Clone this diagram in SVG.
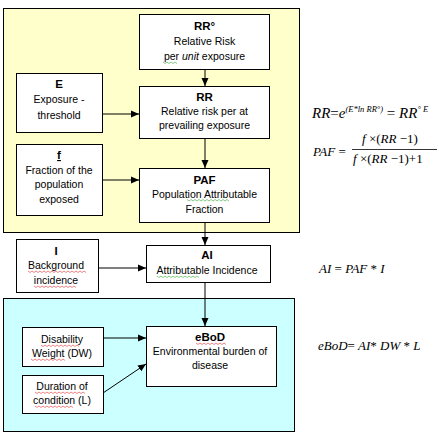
<svg xmlns="http://www.w3.org/2000/svg" width="439" height="448" viewBox="0 0 439 448">
<style>
.panel{stroke:#000;stroke-width:1}
.box{fill:#fff;stroke:#000;stroke-width:1}
text{font-family:"Liberation Sans",Arial,sans-serif;font-size:10.5px;fill:#000;text-anchor:middle}
.b{font-weight:bold;font-size:11.5px}
.f{font-family:"Liberation Serif","Times New Roman",serif;font-style:italic;text-anchor:start;font-size:13px}
.up{font-style:normal}
.c{stroke:#000;stroke-width:1;fill:none}
.sq{fill:none;stroke-width:0.6}
</style>
<defs>
<marker id="ah" markerWidth="8" markerHeight="8" refX="8" refY="4" orient="auto" markerUnits="userSpaceOnUse">
<path d="M0,0.5 L8,4 L0,7.5 Z" fill="#000"/>
</marker>
</defs>
<rect width="439" height="448" fill="#fff"/>
<rect id="panel-yellow" class="panel" x="3.5" y="8.5" width="296" height="224" fill="#FFFFCC"/>
<rect id="panel-cyan" class="panel" x="3.5" y="298.5" width="291" height="133" fill="#CCFFFF"/>

<g id="connectors">
<line class="c" x1="205" y1="69" x2="205" y2="86" marker-end="url(#ah)"/>
<line class="c" x1="102" y1="114" x2="139" y2="114" marker-end="url(#ah)"/>
<line class="c" x1="205" y1="138" x2="205" y2="168" marker-end="url(#ah)"/>
<line class="c" x1="102" y1="180" x2="139" y2="180" marker-end="url(#ah)"/>
<line class="c" x1="205" y1="222" x2="205" y2="245" marker-end="url(#ah)"/>
<line class="c" x1="98" y1="268" x2="146" y2="268" marker-end="url(#ah)"/>
<line class="c" x1="205" y1="282" x2="205" y2="326" marker-end="url(#ah)"/>
<line class="c" x1="103" y1="338" x2="146" y2="338" marker-end="url(#ah)"/>
<line class="c" x1="103" y1="393" x2="146" y2="364" marker-end="url(#ah)"/>
</g>

<g id="node-rr0">
<rect class="box" x="139.5" y="14.5" width="130" height="55"/>
<text class="b" x="204.5" y="30">RR°</text>
<text x="204.5" y="44.5">Relative Risk</text>
<text x="204.5" y="60">per <tspan font-style="italic">unit</tspan> exposure</text>
</g>

<g id="node-e">
<rect class="box" x="16.5" y="73.5" width="86" height="59"/>
<text class="b" x="59" y="88">E</text>
<text x="59" y="103">Exposure -</text>
<text x="59" y="119">threshold</text>
</g>

<g id="node-rr">
<rect class="box" x="139.5" y="86.5" width="130" height="52"/>
<text class="b" x="204.5" y="100.5">RR</text>
<text x="204.5" y="115">Relative risk per at</text>
<text x="204.5" y="129">prevailing exposure</text>
</g>

<g id="node-f">
<rect class="box" x="16.5" y="144.5" width="86" height="71"/>
<text class="b" x="59" y="159" text-decoration="underline">f</text>
<text x="59" y="174">Fraction of the</text>
<text x="59" y="188">population</text>
<text x="59" y="203">exposed</text>
</g>

<g id="node-paf">
<rect class="box" x="139.5" y="168.5" width="130" height="54"/>
<text class="b" x="204.5" y="184">PAF</text>
<text x="204.5" y="197.5">Population Attributable</text>
<text x="204.5" y="213">Fraction</text>
</g>

<g id="node-i">
<rect class="box" x="16.5" y="239.5" width="82" height="53"/>
<text class="b" x="56" y="255">I</text>
<text x="56" y="269">Background</text>
<text x="56" y="284">incidence</text>
</g>

<g id="node-ai">
<rect class="box" x="146.5" y="245.5" width="124" height="37"/>
<text class="b" x="207" y="259">AI</text>
<text x="207" y="274">Attributable Incidence</text>
</g>

<g id="node-dw">
<rect class="box" x="22.5" y="327.5" width="81" height="39"/>
<text x="62" y="343">Disability</text>
<text x="62" y="357">Weight (DW)</text>
</g>

<g id="node-l">
<rect class="box" x="22.5" y="375.5" width="81" height="38"/>
<text x="62" y="390">Duration of</text>
<text x="62" y="404">condition (L)</text>
</g>

<g id="node-ebod">
<rect class="box" x="146.5" y="326.5" width="130" height="60"/>
<text class="b" x="210" y="341">eBoD</text>
<text x="210" y="355">Environmental burden of</text>
<text x="210" y="369">disease</text>
</g>

<g id="spellcheck">
<path class="sq" stroke="#3a3" d="M163,62 l2,1.5 l2,-1.5 l2,1.5 l2,-1.5 l2,1.5 l2,-1.5 l2,1.5"/>
<path class="sq" stroke="#3a3" d="M187,199.5 l2,1.5 l2,-1.5 l2,1.5 l2,-1.5 l2,1.5 l2,-1.5 l2,1.5 l2,-1.5 l2,1.5 l2,-1.5 l2,1.5 l2,-1.5 l2,1.5 l2,-1.5 l2,1.5 l2,-1.5 l2,1.5 l2,-1.5 l2,1.5 l2,-1.5 l2,1.5"/>
<path class="sq" stroke="#3a3" d="M157,276 l2,1.5 l2,-1.5 l2,1.5 l2,-1.5 l2,1.5 l2,-1.5 l2,1.5 l2,-1.5 l2,1.5 l2,-1.5 l2,1.5 l2,-1.5 l2,1.5 l2,-1.5 l2,1.5 l2,-1.5 l2,1.5 l2,-1.5 l2,1.5 l2,-1.5 l2,1.5"/>
<path class="sq" stroke="#d33" d="M28,271 l2,1.5 l2,-1.5 l2,1.5 l2,-1.5 l2,1.5 l2,-1.5 l2,1.5 l2,-1.5 l2,1.5 l2,-1.5 l2,1.5 l2,-1.5 l2,1.5 l2,-1.5 l2,1.5 l2,-1.5 l2,1.5 l2,-1.5 l2,1.5 l2,-1.5 l2,1.5 l2,-1.5 l2,1.5 l2,-1.5 l2,1.5 l2,-1.5 l2,1.5 l2,-1.5 l2,1.5"/>
<path class="sq" stroke="#d33" d="M34,286 l2,1.5 l2,-1.5 l2,1.5 l2,-1.5 l2,1.5 l2,-1.5 l2,1.5 l2,-1.5 l2,1.5 l2,-1.5 l2,1.5 l2,-1.5 l2,1.5 l2,-1.5 l2,1.5 l2,-1.5 l2,1.5 l2,-1.5 l2,1.5 l2,-1.5 l2,1.5"/>
<path class="sq" stroke="#d33" d="M41,345 l2,1.5 l2,-1.5 l2,1.5 l2,-1.5 l2,1.5 l2,-1.5 l2,1.5 l2,-1.5 l2,1.5 l2,-1.5 l2,1.5 l2,-1.5 l2,1.5 l2,-1.5 l2,1.5 l2,-1.5 l2,1.5 l2,-1.5 l2,1.5"/>
<path class="sq" stroke="#d33" d="M31,359 l2,1.5 l2,-1.5 l2,1.5 l2,-1.5 l2,1.5 l2,-1.5 l2,1.5 l2,-1.5 l2,1.5 l2,-1.5 l2,1.5 l2,-1.5 l2,1.5 l2,-1.5 l2,1.5 l2,-1.5 l2,1.5"/>
<path class="sq" stroke="#d33" d="M35,392 l2,1.5 l2,-1.5 l2,1.5 l2,-1.5 l2,1.5 l2,-1.5 l2,1.5 l2,-1.5 l2,1.5 l2,-1.5 l2,1.5 l2,-1.5 l2,1.5 l2,-1.5 l2,1.5 l2,-1.5 l2,1.5 l2,-1.5 l2,1.5 l2,-1.5 l2,1.5 l2,-1.5 l2,1.5 l2,-1.5 l2,1.5"/>
<path class="sq" stroke="#d33" d="M35,406 l2,1.5 l2,-1.5 l2,1.5 l2,-1.5 l2,1.5 l2,-1.5 l2,1.5 l2,-1.5 l2,1.5 l2,-1.5 l2,1.5 l2,-1.5 l2,1.5 l2,-1.5 l2,1.5 l2,-1.5 l2,1.5 l2,-1.5 l2,1.5"/>
<path class="sq" stroke="#d33" d="M196,343 l2,1.5 l2,-1.5 l2,1.5 l2,-1.5 l2,1.5 l2,-1.5 l2,1.5 l2,-1.5 l2,1.5 l2,-1.5 l2,1.5 l2,-1.5 l2,1.5 l2,-1.5 l2,1.5"/>
</g>

<g id="formulas">
<text class="f" x="312" y="118" style="font-size:15px">RR<tspan class="up">=</tspan>e<tspan style="font-size:8.5px" dy="-6.5">(E*ln RR°)</tspan><tspan dy="6.5" class="up"> = </tspan>RR<tspan style="font-size:8.5px" dy="-6.5">° E</tspan></text>
<text class="f" x="313" y="156">PAF <tspan class="up">=</tspan></text>
<text class="f" x="362" y="143">f <tspan class="up">×(</tspan>RR <tspan class="up">−1)</tspan></text>
<line x1="352" y1="149.5" x2="437" y2="149.5" stroke="#000" stroke-width="0.8"/>
<text class="f" x="353" y="163">f <tspan class="up">×(</tspan>RR <tspan class="up">−1)+1</tspan></text>
<text class="f" x="319" y="273">AI <tspan class="up">=</tspan> PAF <tspan class="up">*</tspan> I</text>
<text class="f" x="318" y="350">eBoD<tspan class="up">=</tspan> AI<tspan class="up">*</tspan> DW <tspan class="up">*</tspan> L</text>
</g>
</svg>
